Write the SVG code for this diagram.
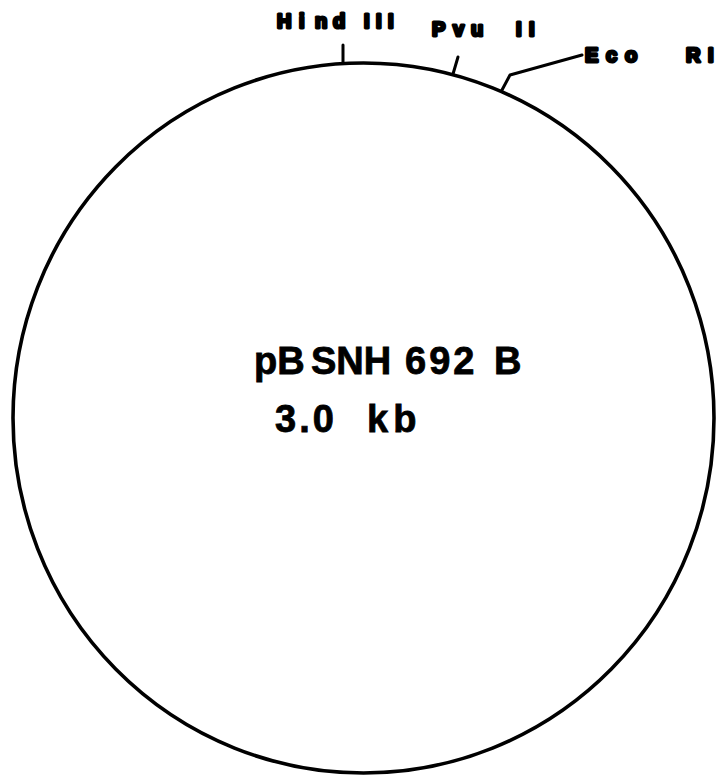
<svg xmlns="http://www.w3.org/2000/svg" width="719" height="776" viewBox="0 0 719 776">
  <style>
    .site { font-family: "Liberation Sans", Arial, sans-serif; font-weight: 900; font-size: 20px; fill: #000; stroke: #000; stroke-width: 3px; stroke-linejoin: round; }
    .title { font-family: "Liberation Sans", Arial, sans-serif; font-weight: bold; font-size: 38px; fill: #000; stroke: #000; stroke-width: 0.8px; }
    .lead { fill: none; stroke: #000; stroke-width: 3; stroke-linecap: round; stroke-linejoin: round; }
  </style>
  <rect width="719" height="776" fill="#fff"/>

  <!-- plasmid backbone -->
  <g id="plasmid">
    <ellipse cx="363.5" cy="418" rx="350.5" ry="355" fill="none" stroke="#000" stroke-width="3.6"/>
    <text class="title" x="254" y="374">pB<tspan x="311">SNH</tspan><tspan x="405" letter-spacing="3">692</tspan><tspan x="494">B</tspan></text>
    <text class="title" x="275" y="432">3<tspan dx="3">.</tspan><tspan dx="3">0</tspan><tspan x="367">k</tspan><tspan dx="5">b</tspan></text>
  </g>

  <!-- restriction site lead lines -->
  <g id="connectors">
    <path class="lead" d="M343,45 L343,62"/>
    <path class="lead" d="M458,57 L453,74"/>
    <path class="lead" d="M502,90 L510,75 L582,55"/>
  </g>

  <g id="site-hindIII">
    <text class="site" x="277 299 315 333 340 364 376 388" y="28">Hind III</text>
  </g>
  <g id="site-pvuII">
    <text class="site" x="432 453 471 490 516 529" y="36">Pvu II</text>
  </g>
  <g id="site-ecoRI">
    <text class="site" x="585 606 625 660 686 708" y="62">Eco RI</text>
  </g>
</svg>
